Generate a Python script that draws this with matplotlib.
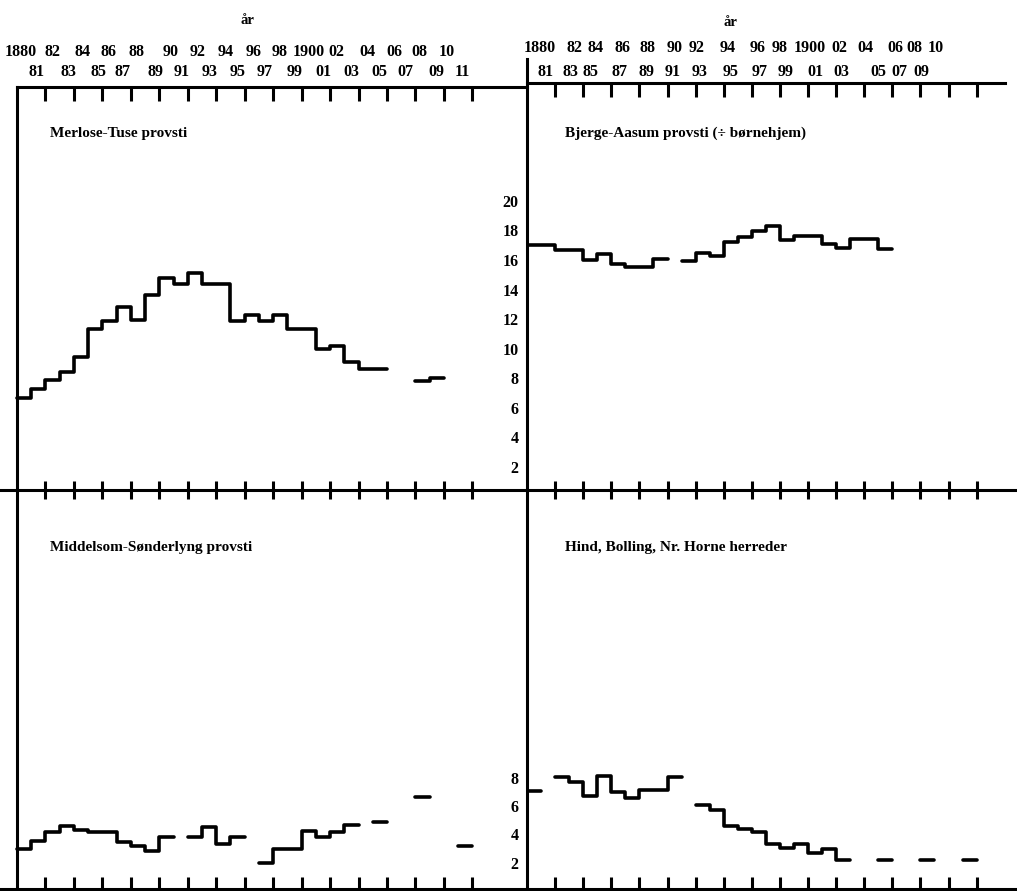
import numpy as np
import matplotlib
matplotlib.use("Agg")
import matplotlib.pyplot as plt
from matplotlib.transforms import blended_transform_factory

# ---------------- data ----------------
years = np.arange(1880, 1912)
nan = np.nan

merlose = [6.65, 7.25, 7.9, 8.4, 9.45, 11.35, 11.9, 12.85, 11.95, 13.6,
           14.8, 14.35, 15.15, 14.4, 14.4, 11.9, 12.3, 11.9, 12.3, 11.3,
           11.3, 9.95, 10.2, 9.1, 8.65, 8.6, nan, nan, 7.8, 8.05, nan, nan]

bjerge = [17.0, 17.0, 16.7, 16.7, 16.0, 16.4, 15.7, 15.5, 15.5, 16.05,
          nan, 15.9, 16.45, 16.25, 17.2, 17.55, 17.95, 18.3, 17.35, 17.6,
          17.6, 17.1, 16.8, 17.4, 17.4, 16.75, nan, nan, nan, nan, nan, nan]

middelsom = [3.0, 3.55, 4.15, 4.6, 4.3, 4.15, 4.15, 3.5, 3.2, 2.85,
             3.8, nan, 3.8, 4.55, 3.35, 3.8, nan, 2.0, 2.95, 2.95,
             4.25, 3.8, 4.15, 4.7, nan, 4.9, nan, nan, 6.6, nan, nan, 3.2]

hind = [7.05, nan, 8.05, 7.65, 6.7, 8.1, 6.95, 6.55, 7.15, 7.15,
        8.05, nan, 6.05, 5.7, 4.6, 4.4, 4.2, 3.3, 3.05, 3.3,
        2.7, 3.0, 2.2, nan, nan, 2.2, nan, nan, 2.2, nan, nan, 2.2]

titles = ["Merlose-Tuse provsti",
          "Bjerge-Aasum provsti (\u00f7 b\u00f8rnehjem)",
          "Middelsom-S\u00f8nderlyng provsti",
          "Hind, Bolling, Nr. Horne herreder"]

tick_years = np.arange(1882, 1913, 2)
yticks_top = np.arange(2, 21, 2)
yticks_bottom = np.arange(2, 9, 2)

even_labels = ["1880", "82", "84", "86", "88", "90", "92", "94", "96", "98",
               "1900", "02", "04", "06", "08", "10"]
odd_left = ["81", "83", "85", "87", "89", "91", "93", "95", "97", "99",
            "01", "03", "05", "07", "09", "11"]
odd_right = odd_left[:-1]

# label anchor positions (in years) as printed on the original
even_pos_left = [1880.25, 1882.5, 1884.6, 1886.4, 1888.4, 1890.8, 1892.7, 1894.65,
                 1896.6, 1898.45, 1900.5, 1902.45, 1904.6, 1906.5, 1908.3, 1910.2]
odd_pos_left = [1881.4, 1883.6, 1885.7, 1887.4, 1889.7, 1891.6, 1893.5, 1895.5,
                1897.4, 1899.5, 1901.5, 1903.5, 1905.5, 1907.3, 1909.45, 1911.3]
even_pos_right = [1880.9, 1883.4, 1884.9, 1886.8, 1888.6, 1890.5, 1892.1, 1894.3,
                  1896.4, 1898.0, 1900.1, 1902.2, 1904.1, 1906.2, 1907.6, 1909.1]
odd_pos_right = [1881.3, 1883.1, 1884.5, 1886.6, 1888.5, 1890.4, 1892.3, 1894.5,
                 1896.55, 1898.4, 1900.5, 1902.4, 1905.0, 1906.5, 1908.1]

# ---------------- layout ----------------
W, H = 1017, 891
fig = plt.figure(figsize=(W / 100, H / 100), dpi=100)
fig.patch.set_facecolor("white")

FONT = ["Liberation Serif", "DejaVu Serif"]
LW = 2.2
INK = "black"

# pixel geometry of the original
px_per_year_L, x1880_L = 14.23, 17
px_per_year_R, x1880_R = 14.05, 527
mid_y, top_y_L, top_y_R, bot_y = 490, 87, 83, 889
zero_top, ppu_top = 496.6, 14.79
zero_bot, ppu_bot = 891.5, 14.25


def add_axes(px_left, px_right, py_top, py_bottom):
    return fig.add_axes([px_left / W, 1 - py_bottom / H,
                         (px_right - px_left) / W, (py_bottom - py_top) / H])


axTL = add_axes(0, 527, top_y_L, mid_y)
axTR = add_axes(527, 1017, top_y_R, mid_y)
axBL = add_axes(0, 527, mid_y, bot_y)
axBR = add_axes(527, 1017, mid_y, bot_y)

xlimL = (1880 - x1880_L / px_per_year_L, 1880 + (527 - x1880_L) / px_per_year_L)
xlimR = (1880, 1880 + (1017 - x1880_R) / px_per_year_R)
ylimTL = ((zero_top - mid_y) / ppu_top, (zero_top - top_y_L) / ppu_top)
ylimTR = ((zero_top - mid_y) / ppu_top, (zero_top - top_y_R) / ppu_top)
ylimB = ((zero_bot - bot_y) / ppu_bot, (zero_bot - mid_y) / ppu_bot)

for ax, xl, yl in [(axTL, xlimL, ylimTL), (axTR, xlimR, ylimTR),
                   (axBL, xlimL, ylimB), (axBR, xlimR, ylimB)]:
    ax.set_xlim(*xl)
    ax.set_ylim(*yl)
    ax.patch.set_alpha(0)
    for s in ax.spines.values():
        s.set_linewidth(LW)
        s.set_color(INK)
    ax.spines["right"].set_visible(False)


def draw_steps(ax, vals):
    edges = np.append(years, years[-1] + 1)
    v = np.append(np.asarray(vals, dtype=float), np.nan)
    ax.step(edges, v, where="post", color=INK, lw=2.6,
            solid_capstyle="round", solid_joinstyle="round")


draw_steps(axTL, merlose)
draw_steps(axTR, bjerge)
draw_steps(axBL, middelsom)
draw_steps(axBR, hind)

# ---- top panels: top axis with downward ticks
for ax in (axTL, axTR):
    ax.spines["bottom"].set_visible(False)
    ax.xaxis.set_ticks_position("top")
    ax.set_xticks(tick_years)
    ax.set_xticklabels([])
    ax.tick_params(axis="x", direction="in", length=10, width=LW, color=INK)
axTL.spines["top"].set_bounds(1880, xlimL[1])
axTR.spines["top"].set_bounds(1880, 1880 + (1005 - x1880_R) / px_per_year_R)
axTR.spines["left"].set_bounds(ylimTR[0], (zero_top - 59) / ppu_top)

# ---- bottom panels: middle line with crossing ticks + bottom axis with upward ticks
for ax in (axBL, axBR):
    ax.spines["top"].set_visible(False)
    ax.xaxis.set_ticks_position("bottom")
    ax.set_xticks(tick_years)
    ax.set_xticklabels([])
    ax.tick_params(axis="x", direction="in", length=9, width=LW, color=INK)
    sec = ax.secondary_xaxis("top")
    sec.set_xticks(tick_years)
    sec.set_xticklabels([])
    sec.tick_params(axis="x", direction="inout", length=13, width=LW, color=INK)
    sec.spines["top"].set_linewidth(LW)
    sec.spines["top"].set_color(INK)

# left y axes positioned at 1880
for ax in (axTL, axBL):
    ax.spines["left"].set_position(("data", 1880))
    ax.set_yticks([])
for ax in (axTR, axBR):
    ax.spines["left"].set_position(("data", 1880))

axTR.set_yticks(yticks_top)
axBR.set_yticks(yticks_bottom)
for ax in (axTR, axBR):
    ax.tick_params(axis="y", length=0, pad=6)
    for t in ax.get_yticklabels():
        t.set_fontfamily(FONT)
        t.set_fontweight("bold")
        t.set_fontsize(11.5)

# ---- year labels above the top panels
def year_labels(ax, labels, positions, py):
    tr = blended_transform_factory(ax.transData, fig.transFigure)
    for s, x in zip(labels, positions):
        ax.text(x, 1 - py / H, s, transform=tr, ha="center", va="center",
                fontsize=11.5, fontweight="bold", family=FONT, clip_on=False)

year_labels(axTL, even_labels, even_pos_left, 52)
year_labels(axTL, odd_left, odd_pos_left, 72)
year_labels(axTR, even_labels, even_pos_right, 48)
year_labels(axTR, odd_right, odd_pos_right, 72)

fig.text(247 / W, 1 - 20 / H, "\u00e5r", ha="center", va="center",
         fontsize=10.5, fontweight="bold", family=FONT)
fig.text(730 / W, 1 - 22 / H, "\u00e5r", ha="center", va="center",
         fontsize=10.5, fontweight="bold", family=FONT)

# ---- panel titles
for (px, py), s in zip([(50, 134), (565, 133), (50, 548), (565, 548)], titles):
    fig.text(px / W, 1 - py / H, s, ha="left", va="center",
             fontsize=11, fontweight="bold", family=FONT)

fig.savefig("out.png", dpi=100, facecolor="white")
